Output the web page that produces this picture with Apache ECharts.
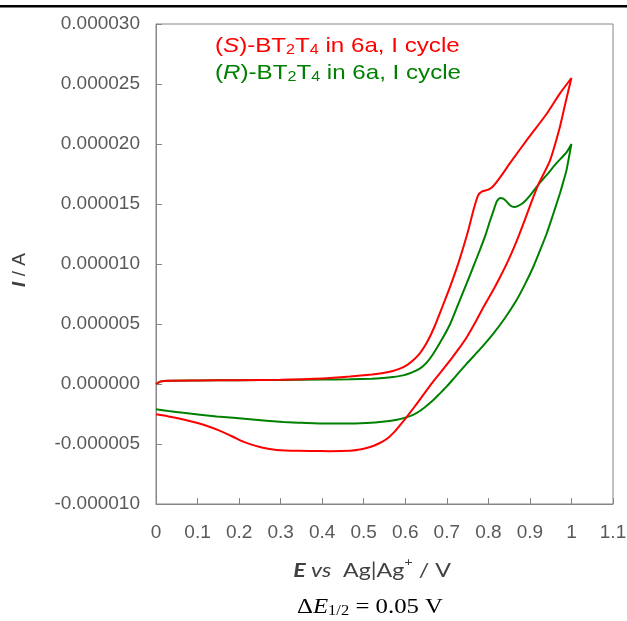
<!DOCTYPE html>
<html><head><meta charset="utf-8">
<script src="https://cdn.jsdelivr.net/npm/echarts@6/dist/echarts.min.js"></script>
<style>html,body{margin:0;padding:0;background:#fff}#c{width:627px;height:621px}</style>
</head><body><div id="c"></div>
<script>
// Potential E (V) vs current I (µA)
const sForward = [[0,0.0],[0.01,0.2],[0.03,0.28],[0.1,0.3],[0.2,0.32],[0.3,0.35],[0.4,0.45],[0.467,0.62],[0.52,0.8],[0.547,0.92],[0.57,1.08],[0.587,1.28],[0.605,1.6],[0.619,1.97],[0.635,2.55],[0.652,3.45],[0.67,4.75],[0.69,6.5],[0.71,8.3],[0.73,10.3],[0.75,12.6],[0.765,14.6],[0.775,15.7],[0.785,16.05],[0.80,16.2],[0.812,16.5],[0.83,17.3],[0.852,18.4],[0.892,20.3],[0.94,22.5],[0.972,24.2],[1.0,25.5]];
const sReverse = [[1.0,25.5],[0.986,23.5],[0.972,21.4],[0.948,18.6],[0.92,16.6],[0.904,15.2],[0.888,13.7],[0.868,11.9],[0.848,10.3],[0.828,8.9],[0.808,7.6],[0.788,6.4],[0.768,5.1],[0.748,3.9],[0.728,2.9],[0.708,1.97],[0.688,1.1],[0.667,0.2],[0.65,-0.6],[0.635,-1.3],[0.62,-2.0],[0.6,-2.9],[0.587,-3.45],[0.575,-3.95],[0.56,-4.45],[0.545,-4.8],[0.527,-5.1],[0.507,-5.33],[0.487,-5.48],[0.467,-5.56],[0.42,-5.6],[0.387,-5.58],[0.34,-5.57],[0.29,-5.5],[0.27,-5.4],[0.25,-5.25],[0.23,-5.05],[0.21,-4.8],[0.19,-4.48],[0.17,-4.15],[0.15,-3.85],[0.13,-3.58],[0.1,-3.25],[0.066,-2.95],[0.03,-2.7],[0,-2.53]];
const rForward = [[0,0.0],[0.01,0.2],[0.03,0.28],[0.1,0.3],[0.2,0.32],[0.3,0.34],[0.4,0.37],[0.467,0.39],[0.52,0.44],[0.547,0.5],[0.57,0.58],[0.595,0.72],[0.615,0.95],[0.635,1.28],[0.652,1.8],[0.667,2.5],[0.688,3.7],[0.708,5.0],[0.728,6.7],[0.748,8.4],[0.764,9.8],[0.78,11.2],[0.793,12.4],[0.804,13.6],[0.812,14.4],[0.82,15.2],[0.828,15.5],[0.836,15.45],[0.844,15.2],[0.852,14.9],[0.862,14.75],[0.872,14.85],[0.884,15.1],[0.9,15.7],[0.92,16.6],[0.94,17.4],[0.964,18.4],[0.988,19.3],[1.0,20.0]];
const rReverse = [[1.0,20.0],[0.994,18.9],[0.988,17.8],[0.98,16.8],[0.972,15.85],[0.964,15.0],[0.956,14.15],[0.94,12.5],[0.924,11.1],[0.908,9.75],[0.888,8.3],[0.868,7.0],[0.84,5.5],[0.812,4.2],[0.78,2.9],[0.748,1.7],[0.72,0.6],[0.7,-0.2],[0.683,-0.8],[0.667,-1.36],[0.65,-1.85],[0.635,-2.25],[0.62,-2.55],[0.6,-2.8],[0.58,-2.98],[0.55,-3.13],[0.507,-3.25],[0.45,-3.3],[0.41,-3.3],[0.35,-3.23],[0.306,-3.17],[0.226,-2.94],[0.146,-2.7],[0.066,-2.4],[0.03,-2.25],[0,-2.1]];
const xTickLabels = ['0','0.1','0.2','0.3','0.4','0.5','0.6','0.7','0.8','0.9','1','1.1'];
const yTickLabels = ['-0.000010','-0.000005','0.000000','0.000005','0.000010','0.000015','0.000020','0.000025','0.000030'];

const chart = echarts.init(document.getElementById('c'), null, {renderer:'canvas'});
const axisGray = '#868686';
const labelColor = '#595959';
const tickFont = 'Liberation Sans';

function legendRich(color){
  return {n:{fontFamily:'Liberation Sans', fontSize:21, fill:color, lineHeight:22},
          i:{fontFamily:'Liberation Sans', fontSize:21, fontStyle:'italic', fill:color, lineHeight:22},
          s:{fontFamily:'Liberation Sans', fontSize:14, fill:color, lineHeight:10, verticalAlign:'bottom'}};
}

chart.setOption({
  animation: false,
  backgroundColor: '#fff',
  grid: {left:156, top:24, width:457, height:480, show:true, borderColor:axisGray, borderWidth:1, outerBoundsMode:'none'},
  xAxis: {
    type:'value', min:0, max:1.1, interval:0.1,
    axisLine:{show:true, onZero:false, lineStyle:{color:axisGray, width:1}},
    axisTick:{show:true, inside:true, length:6, lineStyle:{color:axisGray}},
    splitLine:{show:false},
    axisLabel:{color:labelColor, fontFamily:tickFont, fontSize:19, margin:19,
      formatter: v => xTickLabels[Math.round(v*10)]}
  },
  yAxis: {
    type:'value', min:-10, max:30, interval:5,
    axisLine:{show:true, onZero:false, lineStyle:{color:axisGray, width:1}},
    axisTick:{show:true, inside:true, length:6, lineStyle:{color:axisGray}},
    splitLine:{show:false},
    axisLabel:{color:labelColor, fontFamily:tickFont, fontSize:19, margin:16,
      formatter: v => yTickLabels[Math.round((v+10)/5)]}
  },
  series: [
    {type:'line', data: rForward.concat(rReverse.slice(1)), showSymbol:false, symbol:'none',
     lineStyle:{color:'#008000', width:2}, smooth:0.2, z:2},
    {type:'line', data: sForward.concat(sReverse.slice(1)), showSymbol:false, symbol:'none',
     lineStyle:{color:'#ff0000', width:2}, smooth:0.2, z:3}
  ],
  graphic: [
    {type:'rect', shape:{x:0, y:5, width:627, height:2.5}, style:{fill:'#000'}},
    {type:'text', x:215, y:46, scaleX:1.15, style:{
      text:'{n|(}{i|S}{n|)-BT}{s|2}{n|T}{s|4}{n| in 6a, I cycle}',
      fill:'#ff0000', textVerticalAlign:'middle', rich:legendRich('#ff0000')}},
    {type:'text', x:215, y:73, scaleX:1.15, style:{
      text:'{n|(}{i|R}{n|)-BT}{s|2}{n|T}{s|4}{n| in 6a, I cycle}',
      fill:'#008000', textVerticalAlign:'middle', rich:legendRich('#008000')}},
    {type:'text', x:20, y:270, rotation:Math.PI/2, style:{
      text:'{b|I}{n| / A}', textAlign:'center', textVerticalAlign:'middle',
      rich:{b:{fontFamily:'Liberation Sans', fontSize:19, fontWeight:'bold', fontStyle:'italic', fill:'#404040'},
            n:{fontFamily:'Liberation Sans', fontSize:19, fill:'#404040'}}}},
    {type:'text', x:372, y:571, scaleX:1.22, style:{
      text:'{b|E}{i| vs}{n|  Ag|Ag}{p|+}{n| / V}', textAlign:'center', textVerticalAlign:'middle',
      rich:{b:{fontFamily:'Lato', fontSize:19, fontWeight:'bold', fontStyle:'italic', fill:'#404040', lineHeight:22},
            i:{fontFamily:'Lato', fontSize:19, fontStyle:'italic', fill:'#404040', lineHeight:22},
            n:{fontFamily:'Lato', fontSize:19, fill:'#404040', lineHeight:22},
            p:{fontFamily:'Lato', fontSize:12, fill:'#404040', lineHeight:30, verticalAlign:'top'}}}},
    {type:'text', x:370, y:607, scaleX:1.18, style:{
      text:'{n|Δ}{i|E}{s|1/2}{n| = 0.05 V}', textAlign:'center', textVerticalAlign:'middle',
      rich:{n:{fontFamily:'Liberation Serif', fontSize:21, fill:'#000', lineHeight:22},
            i:{fontFamily:'Liberation Serif', fontSize:21, fontStyle:'italic', fill:'#000', lineHeight:22},
            s:{fontFamily:'Liberation Serif', fontSize:14, fill:'#000', lineHeight:10, verticalAlign:'bottom'}}}}
  ]
});
</script></body></html>
